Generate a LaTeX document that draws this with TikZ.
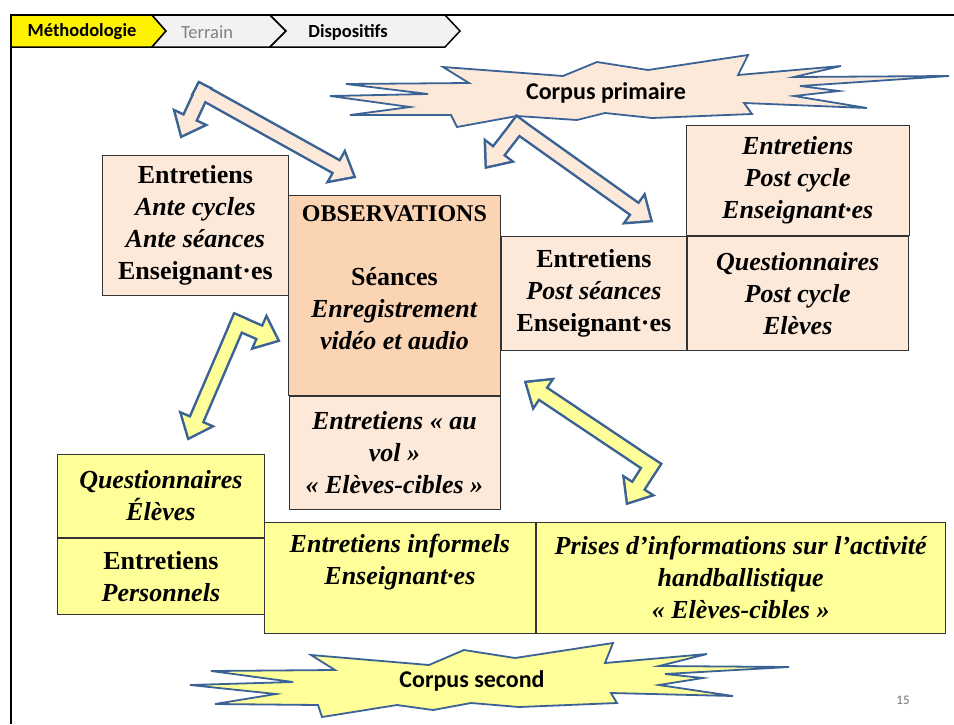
\documentclass[tikz,border=0pt]{standalone}
\usepackage{fontspec}
\setmainfont{Liberation Serif}
\newfontfamily\slidefont{Carlito}
\usetikzlibrary{positioning,calc}

\definecolor{peach}{HTML}{FDE9D9}
\definecolor{peachdark}{HTML}{FBD4B4}
\definecolor{paleyellow}{HTML}{FFFF99}
\definecolor{arrowblue}{RGB}{58,98,148}
\definecolor{crumbgray}{HTML}{F2F2F2}

\newcommand{\boxfont}{\fontsize{26}{32}\selectfont\bfseries}
% one arm of a block arrow, from the bend (#2) to the tip (#3)
\newcommand{\blockarm}[3]{%
  \coordinate (ab) at ($(#2)!-6pt!(#3)$);
  \coordinate (ah) at ($(#3)!18pt!(#2)$);
  \path[#1] ($(ab)!6pt!90:(#3)$) -- ($(ah)!6pt!90:(#3)$) -- ($(ah)!15pt!90:(#3)$) -- (#3)
    -- ($(ah)!15pt!-90:(#3)$) -- ($(ah)!6pt!-90:(#3)$) -- ($(ab)!6pt!-90:(#3)$) -- cycle;
}

\begin{document}
\begin{tikzpicture}[x=1pt, y=-1pt,
    node distance=0pt,
    boxtext/.style={align=center, inner sep=0pt, font=\boxfont},
    box/.style={boxtext, draw=black!80, line width=0.8pt},
    allit/.style={font=\boxfont\itshape},
    peachbox/.style={box, fill=peach},
    obsbox/.style={box, fill=peachdark},
    yellowbox/.style={box, fill=paleyellow},
    armedge/.style={draw=arrowblue, line width=5pt, line join=miter},
    burst/.style={draw=arrowblue, line width=1.8pt, line join=miter},
    crumb/.style={draw=black, line width=1.5pt, line join=miter},
    crumbtext/.style={font=\slidefont\fontsize{18.5}{20}\selectfont},
    bursttext/.style={font=\slidefont\fontsize{24}{28}\selectfont\bfseries}]
\useasboundingbox (0,0) rectangle (954,724);

% breadcrumb and frame
\draw[crumb, fill=yellow] (11,15) -- (152,15) -- (166,31) -- (152,47) -- (11,47) -- cycle;
\draw[crumb, fill=crumbgray] (152,15) -- (270,15) -- (286,31) -- (270,47) -- (152,47) -- (166,31) -- cycle;
\draw[crumb, fill=crumbgray] (270,15) -- (445,15) -- (460,31) -- (445,47) -- (270,47) -- (286,31) -- cycle;
\draw[line width=1.5pt] (11,724) -- (11,15) -- (954,15);
\node[crumbtext, font=\slidefont\fontsize{18.5}{20}\selectfont\bfseries] (meth) at (82,32) {Méthodologie};
\node[crumbtext, text=black!50] (terrain) at (207,32) {Terrain};
\node[crumbtext, font=\slidefont\fontsize{18.5}{20}\selectfont\bfseries] (dispo) at (348,32) {Dispositifs};

% starbursts
\draw[burst, fill=peach] (346,84) -- (469,83) -- (443,67) -- (563,76) -- (597,62) -- (648,70)
  -- (748,55) -- (738,75) -- (841,66) -- (794,77) -- (949,76) -- (800,86) -- (839,91)
  -- (794,96) -- (867,108) -- (744,103) -- (752,114) -- (652,118) -- (605,113) -- (577,120)
  -- (517,116) -- (457,127) -- (451,115) -- (350,115) -- (410,107) -- (330,96) -- (428,94) -- cycle;
\node[bursttext] (primaire) at (606,93) {Corpus primaire};
\draw[burst, fill=paleyellow] (211,671) -- (335,670) -- (311,655) -- (429,665) -- (464,650) -- (515,658)
  -- (613,643) -- (605,663) -- (707,654) -- (659,666) -- (789,667) -- (665,674) -- (703,678)
  -- (659,685) -- (733,696) -- (611,693) -- (617,703) -- (519,707) -- (471,703) -- (433,710)
  -- (397,705) -- (322,717) -- (318,705) -- (215,704) -- (276,694) -- (190,685) -- (293,682) -- cycle;
\node[bursttext] (second) at (472,681) {Corpus second};

% boxes
\node[peachbox, minimum width=186pt, minimum height=140pt, anchor=north west] (ante) at (102,155)
  {Entretiens\\ \textit{Ante cycles}\\ \textit{Ante séances}\\ Enseignant·es};
\node[obsbox, minimum width=212pt, minimum height=200pt, anchor=north west] (obs) at (288,195) {};
\node[boxtext, below=10pt of obs.north] (obstext)
  {{\fontsize{24}{32}\selectfont OBSERVATIONS}\\[32pt] Séances\\ \textit{Enregistrement}\\ \textit{vidéo et audio}};
\node[peachbox, allit, minimum width=211pt, minimum height=113pt, below=0pt of obs] (vol)
  {Entretiens « au\\ vol »\\ « Elèves-cibles »};
\node[peachbox, minimum width=185pt, minimum height=114pt, anchor=north west] (postseance) at (501,236)
  {Entretiens\\ \textit{Post séances}\\ Enseignant·es};
\node[peachbox, allit, minimum width=221pt, minimum height=114pt, right=0pt of postseance] (questpost)
  {Questionnaires\\ Post cycle\\ Elèves};
\node[peachbox, allit, minimum width=223pt, minimum height=110pt, above=0pt of questpost] (entpost)
  {Entretiens\\ Post cycle\\ Enseignant·es};

\node[yellowbox, allit, minimum width=207pt, minimum height=83pt, anchor=north west] (questel) at (57,454)
  {Questionnaires\\ Élèves};
\node[yellowbox, minimum width=207pt, minimum height=76pt, below=0pt of questel] (entpers)
  {Entretiens\\ \textit{Personnels}};
\node[yellowbox, minimum width=271pt, minimum height=111pt, anchor=north west] (entinf) at (264,522) {};
\node[boxtext, allit, below=12pt of entinf.north] (entinftext) {Entretiens informels\\ Enseignant·es};
\node[yellowbox, allit, minimum width=409pt, minimum height=111pt, right=0pt of entinf] (prises)
  {Prises d’informations sur l’activité\\ handballistique\\ « Elèves-cibles »};

% block arrows
\coordinate (bendA) at (202,92);  \coordinate (tipAa) at (182,135); \coordinate (tipAb) at (353,176);
\coordinate (bendB) at (518,126); \coordinate (tipBa) at (487,166); \coordinate (tipBb) at (650,220);
\coordinate (bendC) at (238,323); \coordinate (tipCa) at (277,340); \coordinate (tipCb) at (189,437);
\coordinate (bendD) at (651,466); \coordinate (tipDa) at (527,383); \coordinate (tipDb) at (628,502);
\foreach \b/\s/\c in {A/a/peach, A/b/peach, B/a/peach, B/b/peach, C/a/paleyellow, C/b/paleyellow, D/a/paleyellow, D/b/paleyellow}
  \blockarm{armedge}{bend\b}{tip\b\s};
\foreach \b/\s/\c in {A/a/peach, A/b/peach, B/a/peach, B/b/peach, C/a/paleyellow, C/b/paleyellow, D/a/paleyellow, D/b/paleyellow}
  \blockarm{fill=\c}{bend\b}{tip\b\s};

\node[font=\slidefont\fontsize{13}{15}\selectfont, text=black!55] (pagenum) at (903,700) {15};
\end{tikzpicture}
\end{document}
